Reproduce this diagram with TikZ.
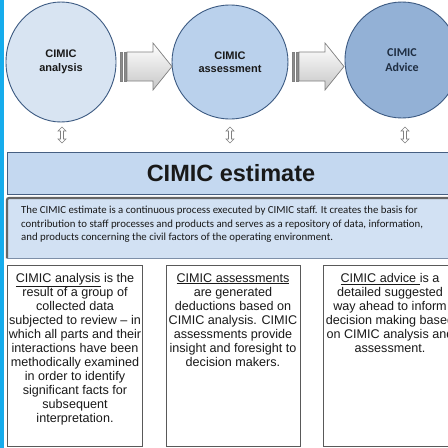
\documentclass[tikz,border=0pt]{standalone}
\usepackage{fontspec}
\setmainfont{Liberation Sans}
\newfontfamily\carlfont{Carlito}
\usetikzlibrary{shapes.geometric}
\definecolor{strip}{HTML}{16ACEC}
\definecolor{cone}{HTML}{D8E4F2}
\definecolor{ctwo}{HTML}{BAD1EC}
\definecolor{cthree}{HTML}{93B1D6}
\definecolor{cedge}{HTML}{3C5A82}
\definecolor{barfill}{HTML}{C4D8F0}
\definecolor{baredge}{HTML}{465F82}
\definecolor{boxfill}{HTML}{D2E1F3}
\definecolor{arrowedge}{HTML}{808080}
\definecolor{arrowfill}{HTML}{E2E2E2}
\definecolor{txt}{HTML}{191919}
\definecolor{advtxt}{HTML}{1E2D41}
\begin{document}
\begin{tikzpicture}[x=1pt,y=-1pt,
  circ/.style={ellipse, draw=cedge, line width=0.9pt, inner sep=0pt, align=center,
    font=\bfseries\fontsize{11}{13.5}\selectfont, text=txt},
  infobox/.style={draw=black!65, line width=1.1pt, fill=white},
  boxtext/.style={align=center, font=\fontsize{12.6}{14}\selectfont, text=txt,
    anchor=north, inner sep=0pt},
  blockarr/.pic={
    \shade[top color=white, bottom color=black!22, draw=arrowedge, line width=0.7pt]
      (7,-14.5) -- (33,-14.5) -- (33,-23.5) -- (52,0) -- (33,23.5) -- (33,14.5) -- (7,14.5) -- cycle;
    \filldraw[fill=black!45, draw=arrowedge, line width=0.5pt] (0,-14.5) rectangle (2,14.5);
    \filldraw[fill=black!45, draw=arrowedge, line width=0.5pt] (4,-14.5) rectangle (6,14.5);
  },
  dblarr/.pic={
    \filldraw[draw=arrowedge, fill=white, line width=0.6pt]
      (0,-8) -- (4,-4) -- (1.5,-4) -- (1.5,4) -- (4,4) -- (0,8) -- (-4,4) -- (-1.5,4)
      -- (-1.5,-4) -- (-4,-4) -- cycle;
  }]
\useasboundingbox (0,0) rectangle (448,448);
\fill[white] (0,0) rectangle (448,448);
\begin{scope}
\clip (0,0) rectangle (448,448);
\fill[strip] (0,0) rectangle (4,448);

% circles
\node[circ, fill=cone, minimum width=110pt, minimum height=120pt] (ana) at (61,62) {CIMIC\\analysis};
\node[circ, fill=ctwo, minimum width=116pt, minimum height=114pt] (ass) at (230,62) {CIMIC\\assessment};
\node[circ, fill=cthree, minimum width=114pt, minimum height=116pt,
  font=\carlfont\bfseries\fontsize{12}{15}\selectfont, text=advtxt] (adv) at (402,60) {CIMIC\\Advice};

% block arrows
\pic at (120,66.5) {blockarr};
\pic at (292,66.5) {blockarr};

% vertical double arrows
\pic at (62,135) {dblarr};
\pic at (230,135) {dblarr};
\pic at (405,135) {dblarr};

% estimate bar
\node[draw=baredge, line width=1pt, fill=barfill, minimum width=443pt, minimum height=42pt,
  anchor=north west, inner sep=0pt] (est) at (7,152) {};
\node[font=\bfseries\fontsize{23.5}{26}\selectfont, text=txt] (esttxt) at (231,173.5) {CIMIC estimate};

% description box
\node[fill=boxfill, minimum width=443pt, minimum height=60pt, anchor=north west, inner sep=0pt] (desc) at (7,198) {};
\draw[black!60, line width=2.2pt, rounded corners=2pt] (desc.south west) -- (desc.north west) -- (desc.north east);
\draw[baredge!70, line width=0.6pt] (desc.south west) -- (desc.south east);
\node[anchor=north west, inner sep=0pt, align=left, text=txt,
  font=\carlfont\fontsize{10.8}{13.5}\selectfont] (desctxt) at (21,206)
  {The CIMIC estimate is a continuous process executed by CIMIC staff. It creates the basis for\\
   contribution to staff processes and products and serves as a repository of data, information,\\
   and products concerning the civil factors of the operating environment.};

% bottom boxes
\node[infobox, minimum width=135pt, minimum height=181pt, anchor=north west, inner sep=0pt] (b1) at (7,265) {};
\node[infobox, minimum width=134pt, minimum height=181pt, anchor=north west, inner sep=0pt] (b2) at (166,265) {};
\node[infobox, minimum width=134pt, minimum height=181pt, anchor=north west, inner sep=0pt] (b3) at (323,265) {};

\node[boxtext] (t1) at (75,273) {\underline{CIMIC analysis} is the\\result of a group of\\collected data\\
  subjected to review -- in\\which all parts and their\\interactions have been\\methodically examined\\
  in order to identify\\significant facts for\\subsequent\\interpretation.};
\node[boxtext] (t2) at (233,273) {\underline{CIMIC assessments}\\are generated\\deductions based on\\
  CIMIC analysis. CIMIC\\assessments provide\\insight and foresight to\\decision makers.};
\node[boxtext] (t3) at (390,273) {\underline{CIMIC advice }is a\\detailed suggested\\way ahead to inform\\
  decision making based\\on CIMIC analysis and\\assessment.};
\end{scope}
\end{tikzpicture}
\end{document}
